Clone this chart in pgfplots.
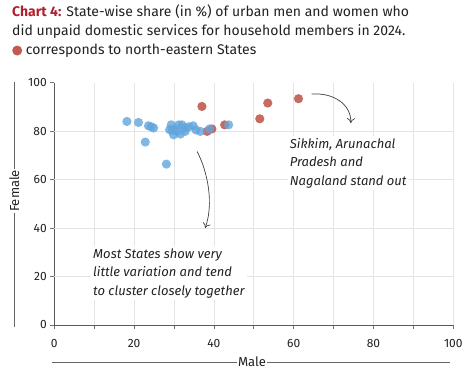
\documentclass[border=0pt]{standalone}
\usepackage{pgfplots}
\pgfplotsset{compat=1.18}
\usetikzlibrary{arrows.meta}
\usepackage{fontspec}
\setmainfont{Fira Sans}
\definecolor{bluept}{HTML}{62A5DD}
\definecolor{redpt}{HTML}{C25C50}
\definecolor{titlered}{HTML}{B0202E}
\definecolor{gridc}{HTML}{E4E4E4}
\definecolor{txt}{HTML}{222222}
\begin{document}
\begin{tikzpicture}
\path[use as bounding box] (0pt,0pt) rectangle (475pt,377pt);
\fill[white] (0pt,0pt) rectangle (475pt,377pt);
\node[anchor=north west, inner sep=0pt, align=left, text=txt, font=\fontsize{14}{19}\selectfont] at (12pt,373pt)
{\textbf{\color{titlered}Chart 4:} State-wise share (in \%) of urban men and women who\\
did unpaid domestic services for household members in 2024.\\
\tikz[baseline=-3.5pt]\fill[redpt] (0,0) circle (5pt); corresponds to north-eastern States};
% axis label lines
\draw[black!60, line width=0.6pt] (52.3pt,15pt) -- (450pt,15pt);
\node[fill=white, inner sep=1pt, text=txt, font=\fontsize{13}{13}\selectfont] at (252pt,15pt) {Male};
\draw[black!60, line width=0.6pt] (14.3pt,50.3pt) -- (14.3pt,295.3pt);
\node[fill=white, inner sep=1pt, text=txt, rotate=90, font=\fontsize{13}{13}\selectfont] at (14.3pt,186pt) {Female};
\begin{axis}[
  at={(54.3pt,52pt)}, anchor=south west,
  scale only axis, width=399pt, height=242.3pt,
  xmin=0, xmax=100, ymin=0, ymax=100,
  axis lines=left,
  axis line style={-, draw=black!65, line width=0.8pt},
  xtick={0,20,...,100}, minor xtick={10,30,...,90},
  ytick={0,20,...,100},
  xmajorgrids, xminorgrids,
  extra y ticks={20,40,60,80}, extra y tick labels={},
  extra y tick style={grid=major, major tick length=0pt},
  grid style={draw=gridc, line width=0.6pt},
  minor grid style={draw=gridc, line width=0.6pt},
  tick align=outside,
  major tick length=4pt, minor tick length=4pt,
  tick style={draw=black!55, line width=0.6pt},
  ticklabel style={font=\fontsize{12}{12}\selectfont, text=txt},
  /pgf/number format/assume math mode=true,
  xticklabel style={yshift=-7pt},
  clip=false,
]
\addplot[only marks, color=redpt, mark=*, mark size=4.6pt, mark options={solid, draw opacity=0, fill=redpt, fill opacity=0.9}] coordinates {
(37.0,90.2) (38.3,79.9) (39.5,80.9) (42.7,82.6) (51.5,85.1) (53.5,91.6) (61.2,93.4)
};
\addplot[only marks, color=bluept, mark=*, mark size=4.6pt, mark options={solid, draw opacity=0, fill=bluept, fill opacity=0.8}] coordinates {
(18.2,84.0) (21.1,83.6) (23.6,82.2) (24.9,81.3) (24.3,81.8) (22.8,75.5) (28.1,66.4)
(29.3,82.6) (31.2,82.6) (28.9,80.6) (29.9,78.5) (31.6,78.8) (30.8,79.9) (32.8,81.3)
(33.7,81.8) (32.0,82.6) (34.8,82.2) (32.8,79.9) (36.6,79.9) (38.9,80.9) (43.7,82.6)
(30.2,81.0) (35.5,80.5) (29.5,80.3)
};
\draw[black!75, line width=0.7pt, -{To[length=5pt,width=8pt]}] (axis cs:64.5,95.3) .. controls (axis cs:70,96) and (axis cs:74.5,91) .. (axis cs:74.3,83.3);
\draw[black!75, line width=0.7pt, -{To[length=5pt,width=8pt]}] (axis cs:35.8,71.6) .. controls (axis cs:38.5,63) and (axis cs:40,50) .. (axis cs:37.8,40);
\node[anchor=north west, fill=white, inner sep=2pt, align=left, text=txt, font=\fontsize{13}{18.5}\selectfont\itshape] at (axis cs:58.5,78) {Sikkim, Arunachal\\Pradesh and\\Nagaland stand out};
\node[anchor=north west, fill=white, inner sep=2pt, align=left, text=txt, font=\fontsize{13}{18.5}\selectfont\itshape] at (axis cs:9.2,32.5) {Most States show very\\little variation and tend\\to cluster closely together};
\end{axis}
\end{tikzpicture}
\end{document}
